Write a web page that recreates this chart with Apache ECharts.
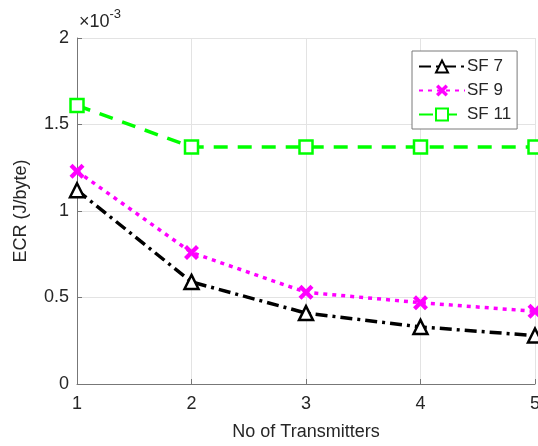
<!DOCTYPE html>
<html>
<head>
<meta charset="utf-8">
<script src="https://cdn.jsdelivr.net/npm/echarts@6/dist/echarts.min.js"></script>
<style>
  html, body { margin: 0; padding: 0; background: #fff; }
  #chart { width: 538px; height: 446px; }
</style>
</head>
<body>
<div id="chart"></div>
<script>
// data (ECR in J/byte)
const transmitters = [1, 2, 3, 4, 5]
const sf7 = [0.00112, 0.00059, 0.00041, 0.00033, 0.00028]
const sf9 = [0.00123, 0.00076, 0.00053, 0.00047, 0.00042]
const sf11 = [0.00161, 0.00137, 0.00137, 0.00137, 0.00137]
const seriesNames = ['SF 7', 'SF 9', 'SF 11']

const font = 'Liberation Sans, Arial, Helvetica, sans-serif'
const textColor = '#262626'
const crossPath = 'path://M0,2L2,0L5,3L8,0L10,2L7,5L10,8L8,10L5,7L2,10L0,8L3,5Z'

const pairs = (ys) => transmitters.map((x, i) => [x, ys[i]])

const chart = echarts.init(document.getElementById('chart'), null, { renderer: 'canvas' })

const option = {
  animation: false,
  textStyle: { fontFamily: font },
  grid: { left: 77, right: 3, top: 38, bottom: 62, outerBoundsMode: 'none', containLabel: false },
  graphic: [{
    type: 'text',
    left: 79,
    top: 8,
    style: {
      text: '{a|×10}{b|-3}',
      rich: {
        a: { fontSize: 18, fontFamily: font, fill: textColor, verticalAlign: 'bottom' },
        b: { fontSize: 13, fontFamily: font, fill: textColor, padding: [0, 0, 10, 0] }
      }
    }
  }],
  legend: {
    orient: 'vertical',
    left: 412,
    top: 51,
    width: 115,
    padding: [7, 6, 6, 6],
    itemGap: 7,
    itemWidth: 46,
    itemHeight: 15,
    borderColor: '#7a7a7a',
    borderWidth: 1,
    backgroundColor: '#fff',
    textStyle: { fontSize: 17, color: textColor, fontFamily: font, padding: [0, 0, 0, -3] },
    data: seriesNames
  },
  xAxis: {
    type: 'value',
    min: 1,
    max: 5,
    interval: 1,
    name: 'No of Transmitters',
    nameLocation: 'middle',
    nameGap: 39,
    nameTextStyle: { fontSize: 18, color: textColor },
    axisLine: { onZero: false, lineStyle: { color: '#777', width: 1 } },
    axisTick: { inside: true, length: 5, lineStyle: { color: '#777' } },
    axisLabel: { fontSize: 18, color: textColor, margin: 11 },
    splitLine: { show: true, lineStyle: { color: '#e3e3e3', width: 1 } }
  },
  yAxis: {
    type: 'value',
    min: 0,
    max: 0.002,
    interval: 0.0005,
    name: 'ECR (J/byte)',
    nameLocation: 'middle',
    nameGap: 47,
    nameTextStyle: { fontSize: 18, color: textColor },
    axisLine: { show: true, lineStyle: { color: '#777', width: 1 } },
    axisTick: { show: true, inside: true, length: 5, lineStyle: { color: '#777' } },
    axisLabel: {
      fontSize: 18,
      color: textColor,
      margin: 8,
      formatter: (v) => String(Math.round(v * 1e4) / 10)
    },
    splitLine: { show: true, lineStyle: { color: '#e3e3e3', width: 1 } }
  },
  series: [
    {
      name: seriesNames[0],
      type: 'line',
      data: pairs(sf7),
      symbol: 'triangle',
      symbolSize: 14,
      z: 4,
      lineStyle: { color: '#000', width: 3.5, type: [12, 5, 3, 5] },
      itemStyle: { color: '#fff', borderColor: '#000', borderWidth: 2.5 }
    },
    {
      name: seriesNames[1],
      type: 'line',
      data: pairs(sf9),
      symbol: crossPath,
      symbolSize: 15,
      z: 3,
      lineStyle: { color: '#ff00ff', width: 3.5, type: [4, 5] },
      itemStyle: { color: '#ff00ff' }
    },
    {
      name: seriesNames[2],
      type: 'line',
      data: pairs(sf11),
      symbol: 'rect',
      symbolSize: 13,
      z: 2,
      lineStyle: { color: '#00ff00', width: 3.5, type: [14, 10] },
      itemStyle: { color: '#fff', borderColor: '#00ff00', borderWidth: 2.5 }
    }
  ]
}

chart.setOption(option)
</script>
</body>
</html>
